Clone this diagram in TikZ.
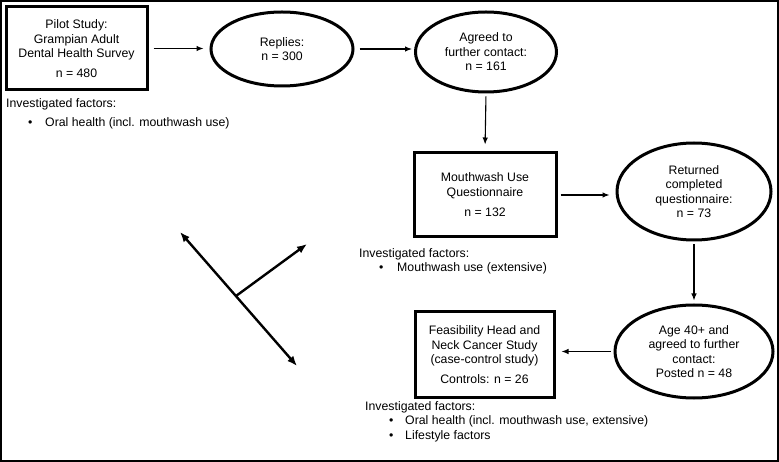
\documentclass[tikz,border=0pt]{standalone}
\usepackage{fontspec}
\setmainfont{Liberation Sans}
\usetikzlibrary{shapes.geometric,arrows.meta}
\begin{document}
\begin{tikzpicture}[x=1pt,y=-1pt,
  every node/.style={font=\fontsize{12.3}{14.5}\selectfont},
  boxnode/.style={draw,line width=3pt,align=center,inner sep=0pt},
  ellnode/.style={draw,ellipse,line width=3pt,align=center,inner sep=0pt},
  factors/.style={anchor=north west,align=left,inner sep=0pt},
  arr/.style={line width=1.1pt,-{Latex[length=7pt,width=5.5pt]}},
  stray/.style={line width=2.4pt,{Latex[length=10pt,width=8pt]}-{Latex[length=10pt,width=8pt]}},
  strayone/.style={line width=2.4pt,-{Latex[length=10pt,width=8pt]}}]
\useasboundingbox (0,0) rectangle (779,462);
\draw[line width=1.3pt] (1,1) rectangle (778,461);

\node[boxnode,minimum width=141pt,minimum height=83pt] (pilot) at (76.5,48.5)
  {Pilot Study:\\Grampian Adult\\Dental Health Survey\\[5pt]n = 480};
\node[ellnode,minimum width=142pt,minimum height=74pt] (replies) at (282,49)
  {Replies:\\n = 300};
\node[ellnode,minimum width=141pt,minimum height=80pt] (agreed) at (486,52)
  {Agreed to\\further contact:\\n = 161};
\node[boxnode,minimum width=142pt,minimum height=84pt] (mouth) at (485,195)
  {Mouthwash Use\\Questionnaire\\[6pt]n = 132};
\node[ellnode,minimum width=154pt,minimum height=97pt] (returned) at (694,191.5)
  {Returned\\completed\\questionnaire:\\n = 73};
\node[ellnode,minimum width=158pt,minimum height=93pt] (age) at (694,351.5)
  {Age 40+ and\\agreed to further\\contact:\\Posted n = 48};
\node[boxnode,minimum width=139pt,minimum height=85pt] (feas) at (484.5,354.5)
  {Feasibility Head and\\Neck Cancer Study\\(case-control study)\\[5pt]Controls: n = 26};

\node[factors] (f1) at (6,98)
  {Investigated factors:\\[5pt]\hspace*{22pt}\makebox[17pt][l]{•}Oral health (incl. mouthwash use)};
\node[factors] (f2) at (359,248)
  {Investigated factors:\\\hspace*{20pt}\makebox[18pt][l]{•}Mouthwash use (extensive)};
\node[factors] (f3) at (365,401)
  {Investigated factors:\\\hspace*{24pt}\makebox[16pt][l]{•}Oral health (incl. mouthwash use, extensive)\\\hspace*{24pt}\makebox[16pt][l]{•}Lifestyle factors};

\draw[arr,shorten <=5pt,shorten >=6pt] (pilot.east) -- (pilot.east -| replies.west);
\draw[arr,shorten <=5pt,shorten >=2pt] (replies.east) -- (replies.east -| agreed.west);
\draw[arr,shorten <=3pt,shorten >=7pt] (agreed.south) -- (mouth.north);
\draw[arr,shorten <=3pt,shorten >=6pt] (mouth.east) -- (mouth.east -| returned.west);
\draw[arr,shorten <=3pt,shorten >=3pt] (returned.south) -- (age.north);
\draw[arr,shorten <=3pt,shorten >=6pt] (age.west) -- (age.west -| feas.east);

\coordinate (ja) at (180,232);
\coordinate (jc) at (297,366);
\coordinate (jj) at (236,296);
\coordinate (jb) at (307,244);
\draw[stray] (ja) -- (jc);
\draw[strayone] (jj) -- (jb);
\end{tikzpicture}
\end{document}
